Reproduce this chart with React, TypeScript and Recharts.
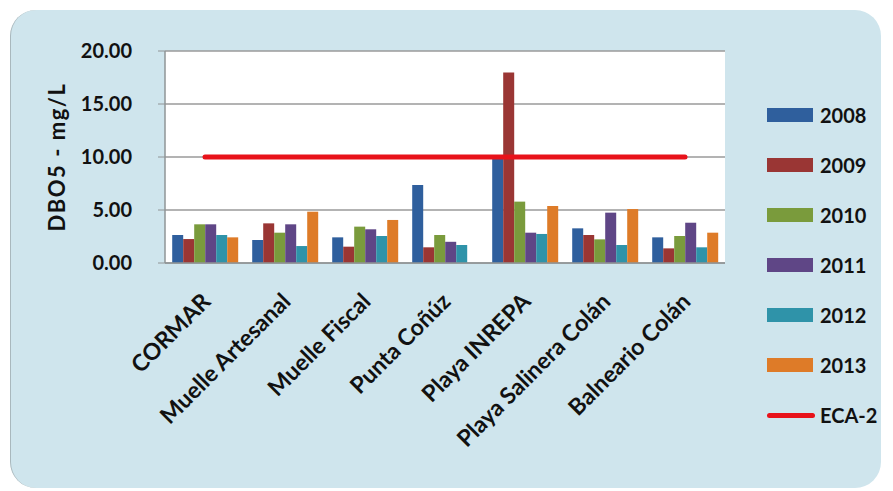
import { ComposedChart, Bar, Line, XAxis, YAxis, CartesianGrid } from "recharts";

const sites = [
  "CORMAR",
  "Muelle Artesanal",
  "Muelle Fiscal",
  "Punta Coñúz",
  "Playa INREPA",
  "Playa Salinera Colán",
  "Balneario Colán",
];

const y2008 = [2.64, 2.17, 2.42, 7.36, 9.87, 3.27, 2.42];
const y2009 = [2.26, 3.74, 1.54, 1.48, 17.96, 2.64, 1.38];
const y2010 = [3.65, 2.86, 3.43, 2.64, 5.79, 2.23, 2.55];
const y2011 = [3.65, 3.65, 3.18, 2.0, 2.86, 4.75, 3.8];
const y2012 = [2.64, 1.6, 2.55, 1.7, 2.74, 1.7, 1.48];
const y2013 = [2.42, 4.84, 4.06, null, 5.38, 5.09, 2.86];
const eca2 = [10, 10, 10, 10, 10, 10, 10];

const yTicks = [0, 5, 10, 15, 20];

const series = [
  { key: "2008", color: "#2f5f9d" },
  { key: "2009", color: "#9a3634" },
  { key: "2010", color: "#7a9b3c" },
  { key: "2011", color: "#5f4686" },
  { key: "2012", color: "#2f93a9" },
  { key: "2013", color: "#de7b28" },
];

const data = sites.map((name, i) => ({
  name,
  "2008": y2008[i],
  "2009": y2009[i],
  "2010": y2010[i],
  "2011": y2011[i],
  "2012": y2012[i],
  "2013": y2013[i],
  "ECA-2": eca2[i],
}));

const FONT = "Lato, 'Open Sans', sans-serif";

const XTick = ({ x, y, payload }: any) => (
  <g transform={`translate(${x + 7},${y + 38})`}>
    <text textAnchor="end" transform="rotate(-45)" fontFamily={FONT} fontWeight={700} fontSize={23} fill="#111">
      {payload.value}
    </text>
  </g>
);

const LegendBox = () => (
  <div style={{ fontFamily: FONT, fontWeight: 700, fontSize: 20, color: "#111" }}>
    {series.map((s) => (
      <div key={s.key} style={{ display: "flex", alignItems: "center", height: 50 }}>
        <div style={{ width: 46, height: 14, background: s.color, marginRight: 7 }} />
        <span>{s.key}</span>
      </div>
    ))}
    <div style={{ display: "flex", alignItems: "center", height: 50 }}>
      <div style={{ width: 48, height: 5, borderRadius: 3, background: "#e8121a", marginRight: 5 }} />
      <span>ECA-2</span>
    </div>
  </div>
);

export default function App() {
  return (
    <div style={{ position: "absolute", left: 0, top: 0, width: 893, height: 491, background: "#fff", overflow: "hidden" }}>
      <div
        style={{
          position: "absolute",
          left: 10,
          top: 10,
          width: 870,
          height: 478,
          background: "#cfe5ed",
          borderRadius: 26,
          borderLeft: "1px solid #a9b8bd",
        }}
      />
      <div style={{ position: "absolute", left: 0, top: 0 }}>
        <ComposedChart
          width={893}
          height={491}
          data={data}
          margin={{ top: 51, right: 168, bottom: 0, left: 0 }}
          barCategoryGap="9%"
          barGap={0}
        >
          <CartesianGrid vertical={false} stroke="#9a9a9a" strokeWidth={1.5} fill="#ffffff" />
          <XAxis
            dataKey="name"
            height={228}
            interval={0}
            tickLine={false}
            tickSize={0}
            axisLine={{ stroke: "#8f9496", strokeWidth: 1.5 }}
            tick={<XTick />}
          />
          <YAxis
            width={165}
            domain={[0, 20]}
            ticks={yTicks}
            tickFormatter={(v: number) => v.toFixed(2)}
            tickSize={7}
            tickMargin={26}
            tickLine={{ stroke: "#8f9496" }}
            axisLine={{ stroke: "#8f9496", strokeWidth: 1.5 }}
            tick={{ fontFamily: FONT, fontWeight: 700, fontSize: 20, fill: "#111" }}
            label={{
              value: "DBO5 - mg/L",
              angle: -90,
              position: "center",
              dx: -25,
              style: { fontFamily: FONT, fontWeight: 700, fontSize: 22, letterSpacing: 1.5, fill: "#111" },
            }}
          />
          {series.map((s) => (
            <Bar key={s.key} dataKey={s.key} fill={s.color} isAnimationActive={false} />
          ))}
          <Line
            dataKey="ECA-2"
            stroke="#e8121a"
            strokeWidth={5}
            strokeLinecap="round"
            dot={false}
            activeDot={false}
            isAnimationActive={false}
          />
        </ComposedChart>
      </div>
      <div style={{ position: "absolute", left: 767, top: 90 }}>
        <LegendBox />
      </div>
    </div>
  );
}
